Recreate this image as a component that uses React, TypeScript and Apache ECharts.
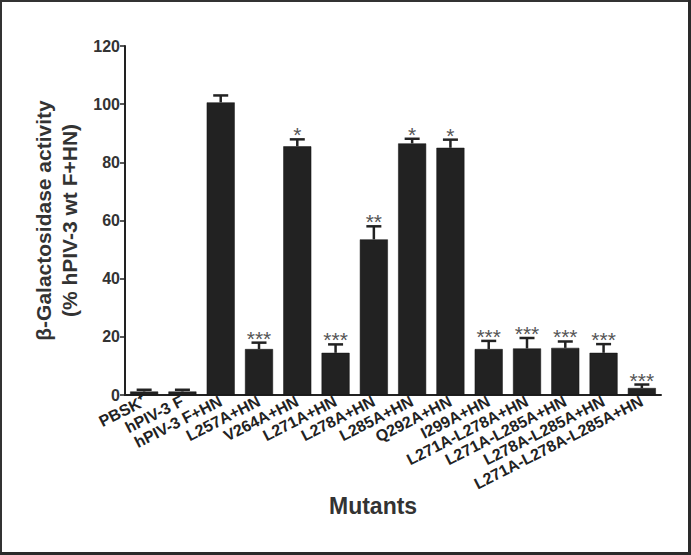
import React, { useEffect, useRef } from "react";
import * as echarts from "echarts";

const categories = [
  "PBSK⁺",
  "hPIV-3 F",
  "hPIV-3 F+HN",
  "L257A+HN",
  "V264A+HN",
  "L271A+HN",
  "L278A+HN",
  "L285A+HN",
  "Q292A+HN",
  "I299A+HN",
  "L271A-L278A+HN",
  "L271A-L285A+HN",
  "L278A-L285A+HN",
  "L271A-L278A-L285A+HN",
];
const means = [1.2, 1.2, 100.6, 15.8, 85.5, 14.5, 53.5, 86.5, 85.0, 15.8, 16.0, 16.2, 14.5, 2.4];
const errors = [0.6, 0.6, 2.4, 2.2, 2.4, 2.9, 4.5, 1.6, 2.8, 2.8, 3.6, 2.2, 3.0, 1.2];
const stars = ["", "", "", "***", "*", "***", "**", "*", "*", "***", "***", "***", "***", "***"];
const yTicks = { min: 0, max: 120, interval: 20 };

const FONT = "'Liberation Sans', Arial, Helvetica, sans-serif";
const INK = "#222";

export default function App() {
  const ref = useRef<HTMLDivElement>(null);
  useEffect(() => {
    if (!ref.current) return;
    const chart = echarts.init(ref.current, undefined, { renderer: "svg" });
    const errData = means.map((m, i) => [i, m, errors[i]]);
    chart.setOption({
      animation: false,
      backgroundColor: "#fff",
      grid: { left: 125, right: 30, top: 46, bottom: 160, containLabel: false },
      xAxis: {
        type: "category",
        data: categories,
        axisLine: { lineStyle: { color: INK, width: 2 } },
        axisTick: { alignWithLabel: true, length: 5, lineStyle: { color: INK, width: 1.5 } },
        axisLabel: {
          interval: 0,
          rotate: 27,
          margin: 5,
          fontFamily: FONT,
          fontSize: 16,
          fontWeight: "bold",
          color: INK,
        },
      },
      yAxis: {
        type: "value",
        min: yTicks.min,
        max: yTicks.max,
        interval: yTicks.interval,
        name: "β-Galactosidase activity\n(% hPIV-3 wt F+HN)",
        nameLocation: "middle",
        nameGap: 40,
        nameTextStyle: {
          fontFamily: FONT,
          fontSize: 21,
          fontWeight: "bold",
          color: "#333",
          lineHeight: 26,
        },
        splitLine: { show: false },
        axisLine: { show: true, lineStyle: { color: INK, width: 2 } },
        axisTick: { show: true, length: 5, lineStyle: { color: INK, width: 1.5 } },
        axisLabel: {
          fontFamily: FONT,
          fontSize: 16,
          fontWeight: "bold",
          color: "#333",
          margin: 5,
        },
      },
      series: [
        {
          type: "bar",
          data: means,
          barWidth: 28,
          itemStyle: { color: INK, borderColor: "#111", borderWidth: 0.5 },
          z: 2,
        },
        {
          type: "custom",
          data: errData,
          z: 3,
          renderItem: (params: any, api: any) => {
            const i = api.value(0);
            const m = api.value(1);
            const e = api.value(2);
            const s = stars[i];
            const base = api.coord([i, m]);
            const top = api.coord([i, m + e]);
            const hw = 7.5;
            const children: any[] = [
              {
                type: "line",
                shape: { x1: base[0], y1: base[1], x2: top[0], y2: top[1] },
                style: { stroke: INK, lineWidth: 2.5 },
              },
              {
                type: "line",
                shape: { x1: top[0] - hw, y1: top[1], x2: top[0] + hw, y2: top[1] },
                style: { stroke: INK, lineWidth: 2.5 },
              },
            ];
            if (s) {
              children.push({
                type: "text",
                x: top[0],
                y: top[1] + 6,
                style: {
                  text: s,
                  fontFamily: FONT,
                  fontSize: 21,
                  fill: "#555",
                  align: "center",
                  verticalAlign: "bottom",
                },
              });
            }
            return { type: "group", children };
          },
        },
      ],
      graphic: [
        {
          type: "text",
          left: 329,
          top: 494,
          style: {
            text: "Mutants",
            fontFamily: FONT,
            fontSize: 23,
            fontWeight: "bold",
            fill: "#333",
          },
        },
        { type: "rect", shape: { x: 0, y: 0, width: 691, height: 2 }, style: { fill: "#333" } },
        { type: "rect", shape: { x: 0, y: 0, width: 2, height: 555 }, style: { fill: "#333" } },
        { type: "rect", shape: { x: 688, y: 0, width: 3, height: 555 }, style: { fill: "#2a2a2a" } },
        { type: "rect", shape: { x: 0, y: 552, width: 691, height: 3 }, style: { fill: "#2a2a2a" } },
      ],
    });
    return () => chart.dispose();
  }, []);
  return (
    <div
      ref={ref}
      style={{ position: "fixed", left: 0, top: 0, width: 691, height: 555, background: "#fff" }}
    />
  );
}
